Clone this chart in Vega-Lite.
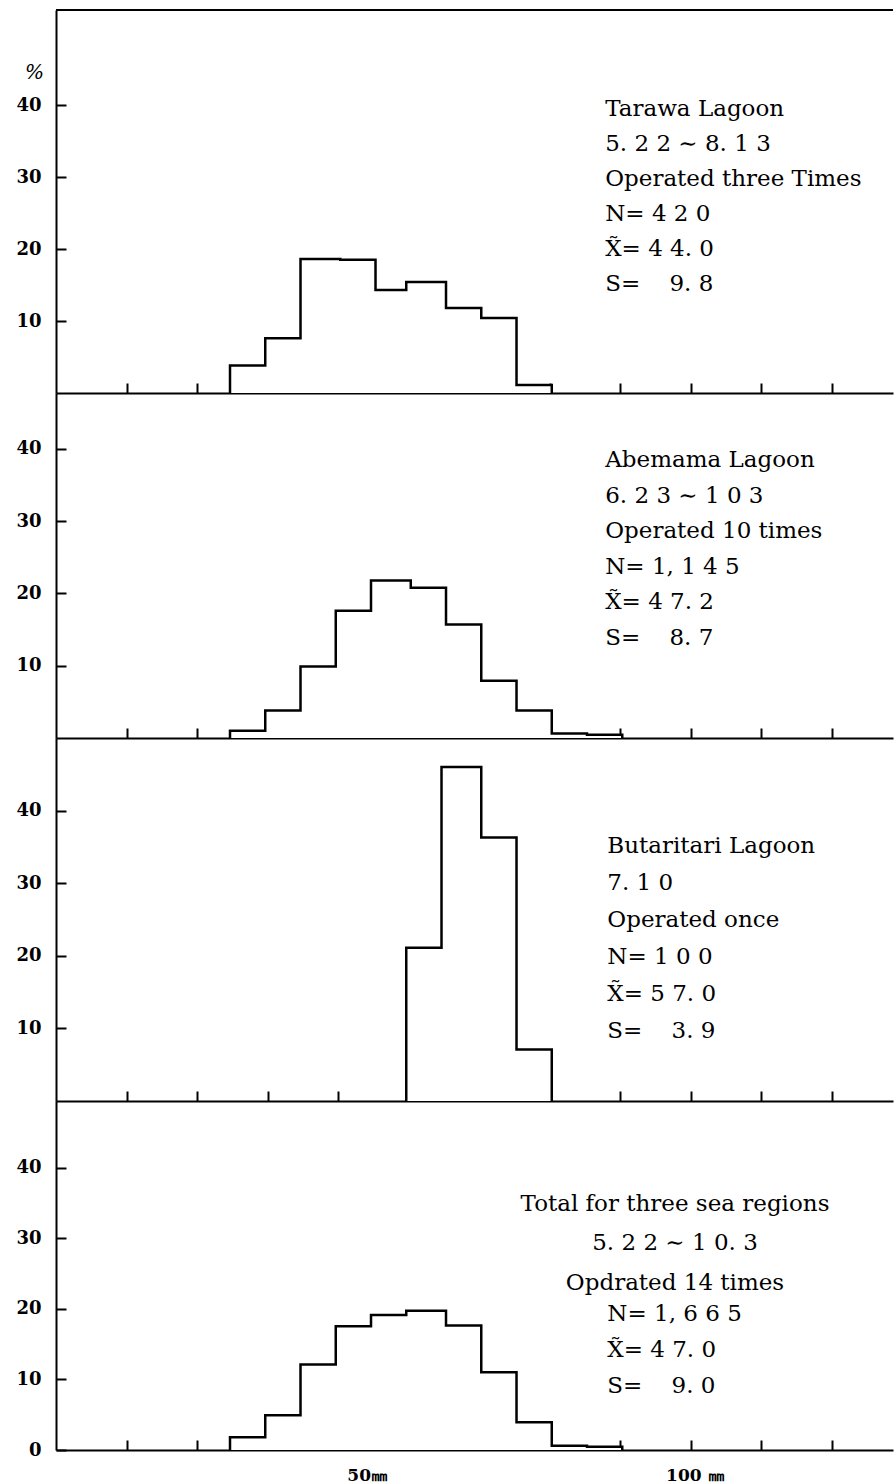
{
  "$schema": "https://vega.github.io/schema/vega-lite/v6.json",
  "background": "white",
  "padding": {"left": 15, "top": 9, "right": 0, "bottom": 0},
  "spacing": 0,
  "bounds": "flush",
  "config": {
    "view": {"stroke": null},
    "font": "DejaVu Serif",
    "axis": {
      "domainColor": "black", "domainWidth": 2, "tickColor": "black", "tickWidth": 2,
      "grid": false, "labelColor": "black", "labelFont": "DejaVu Serif", "labelFontWeight": "bold",
      "labelFontSize": 18, "zindex": 1, "titleColor": "black"
    },
    "rule": {"stroke": "black", "strokeWidth": 2},
    "text": {"font": "DejaVu Serif", "fontSize": 23, "color": "black"}
  },
  "datasets": {
    "bins": [
      {"region": "Tarawa", "lo": 25, "hi": 30, "pct": 3.5},
      {"region": "Tarawa", "lo": 30, "hi": 35, "pct": 7.3},
      {"region": "Tarawa", "lo": 35, "hi": 40, "pct": 18.3},
      {"region": "Tarawa", "lo": 40, "hi": 45, "pct": 18.2},
      {"region": "Tarawa", "lo": 45, "hi": 50, "pct": 14.0},
      {"region": "Tarawa", "lo": 50, "hi": 55, "pct": 15.1},
      {"region": "Tarawa", "lo": 55, "hi": 60, "pct": 11.5},
      {"region": "Tarawa", "lo": 60, "hi": 65, "pct": 10.1},
      {"region": "Tarawa", "lo": 65, "hi": 70, "pct": 0.8},
      {"region": "Abemama", "lo": 25, "hi": 30, "pct": 0.7},
      {"region": "Abemama", "lo": 30, "hi": 35, "pct": 3.5},
      {"region": "Abemama", "lo": 35, "hi": 40, "pct": 9.6},
      {"region": "Abemama", "lo": 40, "hi": 45, "pct": 17.3},
      {"region": "Abemama", "lo": 45, "hi": 50, "pct": 21.5},
      {"region": "Abemama", "lo": 50, "hi": 55, "pct": 20.5},
      {"region": "Abemama", "lo": 55, "hi": 60, "pct": 15.4},
      {"region": "Abemama", "lo": 60, "hi": 65, "pct": 7.6},
      {"region": "Abemama", "lo": 65, "hi": 70, "pct": 3.5},
      {"region": "Abemama", "lo": 70, "hi": 75, "pct": 0.3},
      {"region": "Abemama", "lo": 75, "hi": 80, "pct": 0.15},
      {"region": "Butaritari", "lo": 50, "hi": 55, "pct": 20.8},
      {"region": "Butaritari", "lo": 55, "hi": 60, "pct": 45.7},
      {"region": "Butaritari", "lo": 60, "hi": 65, "pct": 36.0},
      {"region": "Butaritari", "lo": 65, "hi": 70, "pct": 6.8},
      {"region": "Total", "lo": 25, "hi": 30, "pct": 1.5},
      {"region": "Total", "lo": 30, "hi": 35, "pct": 4.6},
      {"region": "Total", "lo": 35, "hi": 40, "pct": 11.8},
      {"region": "Total", "lo": 40, "hi": 45, "pct": 17.2},
      {"region": "Total", "lo": 45, "hi": 50, "pct": 18.8},
      {"region": "Total", "lo": 50, "hi": 55, "pct": 19.4},
      {"region": "Total", "lo": 55, "hi": 60, "pct": 17.3},
      {"region": "Total", "lo": 60, "hi": 65, "pct": 10.7},
      {"region": "Total", "lo": 65, "hi": 70, "pct": 3.6},
      {"region": "Total", "lo": 70, "hi": 75, "pct": 0.3},
      {"region": "Total", "lo": 75, "hi": 80, "pct": 0.15}
    ],
    "notes": [
      {"region": "Tarawa", "part": "a", "text": "Tarawa Lagoon|5. 2 2 ∼ 8. 1 3|Operated three Times|N= 4 2 0|X\u0303= 4 4. 0|S=\u00a0\u00a0\u00a0\u00a09. 8"},
      {"region": "Abemama", "part": "a", "text": "Abemama  Lagoon|6. 2 3 ∼ 1 0 3|Operated 10 times|N= 1, 1 4 5|X\u0303= 4 7. 2|S=\u00a0\u00a0\u00a0\u00a08. 7"},
      {"region": "Butaritari", "part": "a", "text": "Butaritari Lagoon|7. 1 0|Operated once|N= 1 0 0|X\u0303= 5 7. 0|S=\u00a0\u00a0\u00a0\u00a03. 9"},
      {"region": "Total", "part": "a", "text": "Total for three sea regions|5. 2 2 ∼ 1 0. 3|Opdrated 14 times"},
      {"region": "Total", "part": "b", "text": "N= 1, 6 6 5|X\u0303= 4 7. 0|S=\u00a0\u00a0\u00a0\u00a09. 0"}
    ]
  },
  "vconcat": [
    {
      "width": 837, "height": 383,
      "layer": [
        {
          "data": {"name": "bins"},
          "transform": [{"filter": "datum.region == 'Tarawa'"}],
          "mark": {"type": "rect", "fill": "white", "stroke": "black", "strokeWidth": 7, "strokeJoin": "miter", "clip": true},
          "encoding": {
            "x": {"field": "lo", "type": "quantitative", "scale": {"domain": [0, 118.72], "nice": false},
                  "axis": {"values": [10,20,30,40,50,60,70,80,90,100,110], "tickSize": -10, "labels": false, "title": null}},
            "x2": {"field": "hi"},
            "y": {"field": "pct", "type": "quantitative", "scale": {"domain": [0, 53.2], "nice": false},
                  "axis": {"values": [10,20,30,40], "tickSize": -10, "labelPadding": 25, "title": "%",
                           "titleAngle": 0, "titleX": -22, "titleY": 62, "titleFontSize": 20, "titleFontStyle": "italic",
                           "titleFontWeight": "normal", "titleAlign": "center", "titleBaseline": "middle"}},
            "y2": {"datum": 0}
          }
        },
        {
          "data": {"name": "bins"},
          "transform": [{"filter": "datum.region == 'Tarawa'"}],
          "mark": {"type": "rect", "fill": "white", "stroke": "white", "strokeWidth": 2, "clip": true},
          "encoding": {"x": {"field": "lo", "type": "quantitative"}, "x2": {"field": "hi"},
                       "y": {"field": "pct", "type": "quantitative"}, "y2": {"datum": 0}}
        },
        {
          "data": {"name": "notes"},
          "transform": [{"filter": "datum.region == 'Tarawa'"}],
          "mark": {"type": "text", "align": "left", "baseline": "top", "lineBreak": "|", "lineHeight": 35},
          "encoding": {"x": {"datum": 77.9}, "y": {"datum": 41.0}, "text": {"field": "text"}}
        },
        {"data": {"values": [{}]}, "mark": "rule", "encoding": {"y": {"datum": 53.2}}}
      ]
    },
    {
      "width": 837, "height": 345,
      "layer": [
        {
          "data": {"name": "bins"},
          "transform": [{"filter": "datum.region == 'Abemama'"}],
          "mark": {"type": "rect", "fill": "white", "stroke": "black", "strokeWidth": 7, "strokeJoin": "miter", "clip": true},
          "encoding": {
            "x": {"field": "lo", "type": "quantitative", "scale": {"domain": [0, 118.72], "nice": false},
                  "axis": {"values": [10,20,30,40,50,60,70,80,90,100,110], "tickSize": -10, "labels": false, "title": null}},
            "x2": {"field": "hi"},
            "y": {"field": "pct", "type": "quantitative", "scale": {"domain": [0, 47.75], "nice": false},
                  "axis": {"values": [10,20,30,40], "tickSize": -10, "labelPadding": 25, "title": null}},
            "y2": {"datum": 0}
          }
        },
        {
          "data": {"name": "bins"},
          "transform": [{"filter": "datum.region == 'Abemama'"}],
          "mark": {"type": "rect", "fill": "white", "stroke": "white", "strokeWidth": 2, "clip": true},
          "encoding": {"x": {"field": "lo", "type": "quantitative"}, "x2": {"field": "hi"},
                       "y": {"field": "pct", "type": "quantitative"}, "y2": {"datum": 0}}
        },
        {
          "data": {"name": "notes"},
          "transform": [{"filter": "datum.region == 'Abemama'"}],
          "mark": {"type": "text", "align": "left", "baseline": "top", "lineBreak": "|", "lineHeight": 35.6},
          "encoding": {"x": {"datum": 77.9}, "y": {"datum": 40.0}, "text": {"field": "text"}}
        }
      ]
    },
    {
      "width": 837, "height": 363,
      "layer": [
        {
          "data": {"name": "bins"},
          "transform": [{"filter": "datum.region == 'Butaritari'"}],
          "mark": {"type": "rect", "fill": "white", "stroke": "black", "strokeWidth": 7, "strokeJoin": "miter", "clip": true},
          "encoding": {
            "x": {"field": "lo", "type": "quantitative", "scale": {"domain": [0, 118.72], "nice": false},
                  "axis": {"values": [10,20,30,40,50,60,70,80,90,100,110], "tickSize": -10, "labels": false, "title": null}},
            "x2": {"field": "hi"},
            "y": {"field": "pct", "type": "quantitative", "scale": {"domain": [0, 50.0], "nice": false},
                  "axis": {"values": [10,20,30,40], "tickSize": -10, "labelPadding": 25, "title": null}},
            "y2": {"datum": 0}
          }
        },
        {
          "data": {"name": "bins"},
          "transform": [{"filter": "datum.region == 'Butaritari'"}],
          "mark": {"type": "rect", "fill": "white", "stroke": "white", "strokeWidth": 2, "clip": true},
          "encoding": {"x": {"field": "lo", "type": "quantitative"}, "x2": {"field": "hi"},
                       "y": {"field": "pct", "type": "quantitative"}, "y2": {"datum": 0}}
        },
        {
          "data": {"name": "notes"},
          "transform": [{"filter": "datum.region == 'Butaritari'"}],
          "mark": {"type": "text", "align": "left", "baseline": "top", "lineBreak": "|", "lineHeight": 37},
          "encoding": {"x": {"datum": 78.2}, "y": {"datum": 36.7}, "text": {"field": "text"}}
        }
      ]
    },
    {
      "width": 837, "height": 349,
      "layer": [
        {
          "data": {"name": "bins"},
          "transform": [{"filter": "datum.region == 'Total'"}],
          "mark": {"type": "rect", "fill": "white", "stroke": "black", "strokeWidth": 7, "strokeJoin": "miter", "clip": true},
          "encoding": {
            "x": {"field": "lo", "type": "quantitative", "scale": {"domain": [0, 118.72], "nice": false},
                  "axis": {"values": [10,20,30,40,50,60,70,80,90,100,110], "tickSize": -10, "title": null,
                           "labelExpr": "datum.value == 50 ? '50㎜' : datum.value == 100 ? '100 ㎜' : ''",
                           "labelAlign": "right", "labelPadding": 27, "labelFlush": false, "labelFontSize": 17,
                           "labelOffset": {"condition": {"test": "datum.value == 50", "value": -21}, "value": -37}}},
            "x2": {"field": "hi"},
            "y": {"field": "pct", "type": "quantitative", "scale": {"domain": [0, 49.43], "nice": false},
                  "axis": {"values": [0,10,20,30,40], "tickSize": -10, "labelPadding": 25, "title": null}},
            "y2": {"datum": 0}
          }
        },
        {
          "data": {"name": "bins"},
          "transform": [{"filter": "datum.region == 'Total'"}],
          "mark": {"type": "rect", "fill": "white", "stroke": "white", "strokeWidth": 2, "clip": true},
          "encoding": {"x": {"field": "lo", "type": "quantitative"}, "x2": {"field": "hi"},
                       "y": {"field": "pct", "type": "quantitative"}, "y2": {"datum": 0}}
        },
        {
          "data": {"name": "notes"},
          "transform": [{"filter": "datum.region == 'Total' && datum.part == 'a'"}],
          "mark": {"type": "text", "align": "center", "baseline": "top", "lineBreak": "|", "lineHeight": 39.5},
          "encoding": {"x": {"datum": 87.8}, "y": {"datum": 36.4}, "text": {"field": "text"}}
        },
        {
          "data": {"name": "notes"},
          "transform": [{"filter": "datum.region == 'Total' && datum.part == 'b'"}],
          "mark": {"type": "text", "align": "left", "baseline": "top", "lineBreak": "|", "lineHeight": 36},
          "encoding": {"x": {"datum": 78.2}, "y": {"datum": 20.8}, "text": {"field": "text"}}
        }
      ]
    }
  ]
}
